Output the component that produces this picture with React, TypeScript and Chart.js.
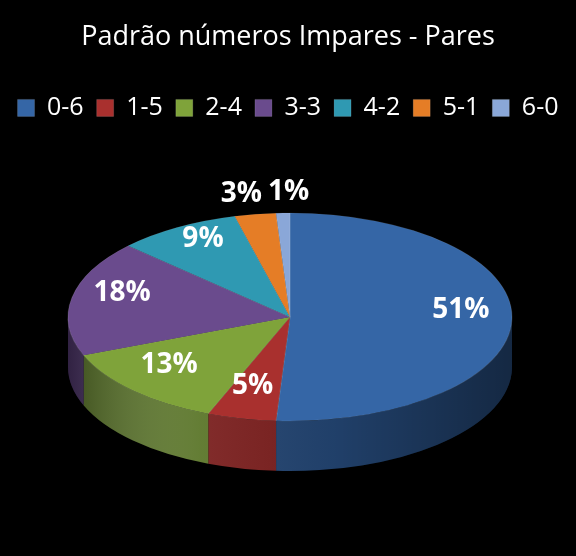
import { useEffect, useRef } from "react";
import { Chart, registerables } from "chart.js";
Chart.register(...registerables);

const patterns = ["0-6", "1-5", "2-4", "3-3", "4-2", "5-1", "6-0"];
const shares = [51, 5, 13, 18, 9, 3, 1];
const topColors = ["#3566a6", "#a9302e", "#7fa33a", "#6a4b8d", "#2f99b2", "#e57d26", "#8aa7d8"];
const sideColors = ["#22436f", "#7a1f1e", "#5a7528", "#4b3466", "#206e80", "#a8591a", "#6580a8"];

// ellipse the flat pie is squashed into
const CX = 290;
const CY = 317;
const RX = 222;
const RY = 104;
const DEPTH = 50;
const LABEL_LIFT = 9;

const pie3d = {
  id: "pie3d",
  beforeDatasetsDraw(chart: Chart) {
    const meta = chart.getDatasetMeta(0);
    const ctx = chart.ctx;
    // front wall, only the lower half of the ellipse can be seen
    meta.data.forEach((el: any, i: number) => {
      const { startAngle, endAngle } = el.getProps(["startAngle", "endAngle"], true);
      const s = Math.max(startAngle, 0);
      const e = Math.min(endAngle, Math.PI);
      if (e <= s) return;
      ctx.save();
      ctx.beginPath();
      ctx.ellipse(CX, CY, RX, RY, 0, s, e);
      ctx.ellipse(CX, CY + DEPTH, RX, RY, 0, e, s, true);
      ctx.closePath();
      ctx.fillStyle = sideColors[i];
      ctx.fill();
      const g = ctx.createLinearGradient(CX - RX, 0, CX + RX, 0);
      g.addColorStop(0, "rgba(0,0,0,0.35)");
      g.addColorStop(0.3, "rgba(255,255,255,0.06)");
      g.addColorStop(0.6, "rgba(0,0,0,0.05)");
      g.addColorStop(1, "rgba(0,0,0,0.4)");
      ctx.fillStyle = g;
      ctx.fill();
      ctx.restore();
    });
    const first: any = meta.data[0];
    const { x, y, outerRadius } = first.getProps(["x", "y", "outerRadius"], true);
    ctx.save();
    ctx.translate(CX, CY);
    ctx.scale(RX / outerRadius, RY / outerRadius);
    ctx.translate(-x, -y);
  },
  afterDatasetsDraw(chart: Chart) {
    const ctx = chart.ctx;
    ctx.restore();
    const meta = chart.getDatasetMeta(0);
    const spots: { text: string; x: number; y: number; out: boolean }[] = [];
    meta.data.forEach((el: any, i: number) => {
      const { startAngle, endAngle } = el.getProps(["startAngle", "endAngle"], true);
      const mid = (startAngle + endAngle) / 2;
      const out = shares[i] < 5;
      const f = out ? 1.2 : 0.77;
      spots.push({
        text: shares[i] + "%",
        x: CX + RX * f * Math.cos(mid),
        y: CY + RY * f * Math.sin(mid) - (out ? 0 : LABEL_LIFT),
        out,
      });
    });
    ctx.save();
    ctx.font = "bold 28px 'Open Sans'";
    ctx.fillStyle = "#ffffff";
    ctx.textAlign = "center";
    ctx.textBaseline = "middle";
    // keep outside labels from overlapping
    const outside = spots.filter((s) => s.out).sort((a, b) => a.x - b.x);
    for (let k = 1; k < outside.length; k++) {
      const a = outside[k - 1];
      const b = outside[k];
      const need = (ctx.measureText(a.text).width + ctx.measureText(b.text).width) / 2 + 6;
      const gap = b.x - a.x;
      if (gap < need) {
        a.x -= (need - gap) / 2;
        b.x += (need - gap) / 2;
      }
    }
    spots.forEach((s) => ctx.fillText(s.text, s.x, s.y));
    ctx.restore();
  },
};

export default function App() {
  const canvasRef = useRef<HTMLCanvasElement>(null);

  useEffect(() => {
    document.body.style.margin = "0";
    document.body.style.background = "#000";
    if (!canvasRef.current) return;
    const chart = new Chart(canvasRef.current, {
      type: "pie",
      data: {
        labels: patterns,
        datasets: [
          {
            data: shares,
            backgroundColor: topColors,
            borderColor: "rgba(255,255,255,0.12)",
            borderWidth: 1,
          },
        ],
      },
      options: {
        responsive: false,
        animation: false,
        events: [],
        plugins: {
          title: {
            display: true,
            text: "Padrão números Impares - Pares",
            color: "#ffffff",
            font: { family: "'Open Sans'", size: 27, weight: "normal" },
            padding: { top: 21, bottom: 29 },
          },
          legend: {
            position: "top",
            labels: {
              color: "#ffffff",
              font: { family: "'Open Sans'", size: 25 },
              boxWidth: 17,
              boxHeight: 17,
              padding: 13,
            },
          },
          tooltip: { enabled: false },
        },
      },
      plugins: [pie3d],
    });
    return () => chart.destroy();
  }, []);

  return (
    <div style={{ width: 576, height: 556, background: "#000" }}>
      <canvas ref={canvasRef} width={576} height={556} />
    </div>
  );
}
